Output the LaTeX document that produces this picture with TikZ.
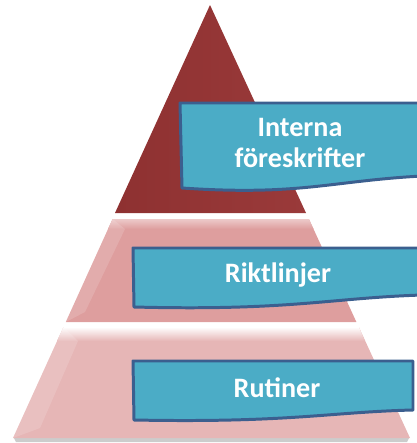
\documentclass[tikz,border=0pt]{standalone}
\usepackage{fontspec}
\setmainfont{Carlito}
\definecolor{topred}{HTML}{9A3A3A}
\definecolor{topreddark}{HTML}{8E3131}
\definecolor{midpink}{HTML}{DE9E9E}
\definecolor{lowpink}{HTML}{E6B6B6}
\definecolor{bannerfill}{HTML}{4BACC6}
\definecolor{bannerline}{HTML}{3B5F8F}
\begin{document}
\begin{tikzpicture}[x=0.02cm,y=-0.02cm,
  banner/.style={fill=bannerfill,draw=bannerline,line width=1.7pt,line join=round},
  bannertext/.style={text=white,font=\bfseries\fontsize{16}{17.8}\selectfont,align=center}]
\useasboundingbox (0,0) rectangle (416,443);
% Shadow under the base
\fill[black!20] (14,438) -- (409,438) -- (407,442) -- (16,442) -- cycle;
% Top tier
\coordinate (apex) at (210,5);
\shade[left color=topreddark,right color=topred] (apex) -- (306,213) -- (115,213) -- cycle;
% Middle tier
\fill[midpink] (112.6,219) -- (308.9,219) -- (356.4,322) -- (65.8,322) -- cycle;
\shade[top color=midpink!55!white,bottom color=midpink] (112.6,219) -- (308.9,219) -- (313.5,229) -- (108,229) -- cycle;
\fill[white,opacity=.15] (112.6,219) -- (125,229) -- (85,312) -- (65.8,322) -- cycle;
% Bottom tier
\fill[lowpink] (63.5,327) -- (358.8,327) -- (410,438) -- (13,438) -- cycle;
\shade[top color=white,bottom color=lowpink] (63.5,327) -- (358.8,327) -- (365,341) -- (57,341) -- cycle;
\fill[white,opacity=.15] (63.5,327) -- (78,341) -- (40,428) -- (13,438) -- cycle;
% Banners
\draw[banner] (180,103) -- (422,103) -- (422,176) .. controls (330,181) and (300,196) .. (182,188) -- cycle;
\draw[banner] (133,248) -- (422,248) -- (422,295) .. controls (330,298) and (290,311) .. (134,307) -- cycle;
\draw[banner] (133,361) -- (413,361) -- (413,410) .. controls (330,412) and (290,423) .. (134,420) -- cycle;
% Labels
\node[bannertext] (interna) at (300,143) {Interna\\föreskrifter};
\node[bannertext] (riktlinjer) at (278,275) {Riktlinjer};
\node[bannertext] (rutiner) at (277,388) {Rutiner};
\end{tikzpicture}
\end{document}
